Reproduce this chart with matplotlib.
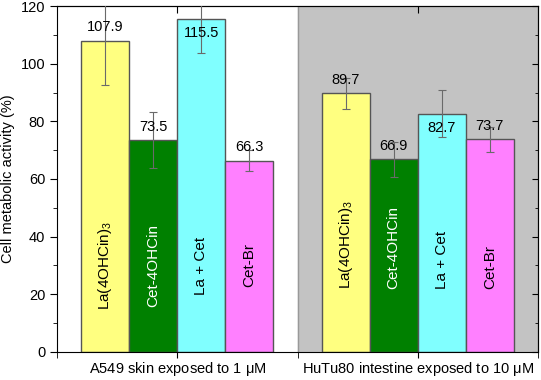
# %%
# Imports
import matplotlib
matplotlib.use("Agg")
import matplotlib.pyplot as plt
import numpy as np

plt.rcParams["font.family"] = ["Liberation Sans", "DejaVu Sans"]
plt.rcParams["mathtext.fontset"] = "custom"
plt.rcParams["mathtext.rm"] = "Liberation Sans"

# %%
# Data
groups = ["A549 skin exposed to 1 $\\mathrm{\\mu}$M", "HuTu80 intestine exposed to 10 $\\mathrm{\\mu}$M"]
compounds = ["La(4OHCin)$_3$", "Cet-4OHCin", "La + Cet", "Cet-Br"]
activity = [
    [107.9, 73.5, 115.5, 66.3],  # A549
    [89.7, 66.9, 82.7, 73.7],    # HuTu80
]
errors = [
    [15.3, 9.6, 11.8, 3.6],
    [5.3, 6.1, 8.0, 4.5],
]
label_below = [
    [False, False, True, False],
    [False, False, True, False],
]

colors = ["#ffff80", "#008000", "#80ffff", "#ff80ff"]
text_colors = ["black", "white", "black", "black"]

# %%
# Plot
fig = plt.figure(figsize=(5.41, 3.80), dpi=100)
ax = fig.add_axes([0.1054, 0.0737, 0.8891, 0.9105])

ax.axvspan(1.0, 2.0, color="#c3c3c3", zorder=0)
ax.axvline(1.0, color="#999999", lw=1, zorder=0.5)

width = 0.2
for g in range(len(groups)):
    center = g + 0.5
    for i in range(len(compounds)):
        x = center + (i - 1.5) * width
        val = activity[g][i]
        ax.bar(x, val, width, color=colors[i], edgecolor="#555555", lw=1, zorder=2)
        ax.errorbar(x, val, yerr=errors[g][i], color="#6a6a6a", lw=0.8,
                    capsize=3, capthick=0.8, zorder=3)
        if label_below[g][i]:
            ax.text(x, val - 5, f"{val:.1f}", ha="center", va="center", fontsize=10.5, zorder=4)
        else:
            ax.text(x, val + 4.7, f"{val:.1f}", ha="center", va="center", fontsize=10.5, zorder=4)
        if g == 0:
            ax.text(x, 30, compounds[i], rotation=90, ha="center", va="center",
                    color=text_colors[i], fontsize=11, zorder=4)
        else:
            ax.text(x, 22, compounds[i], rotation=90, ha="center", va="bottom",
                    color=text_colors[i], fontsize=11, zorder=4)

# Configure display
ax.set_xlim(0, 2)
ax.set_ylim(0, 120)
ax.set_xticks([0.5, 1.5])
ax.set_xticklabels(groups, fontsize=10.5)
ax.set_xticks([0, 1, 2], minor=True)
ax.set_yticks(np.arange(0, 121, 20))
ax.set_yticks(np.arange(0, 121, 10), minor=True)
ax.tick_params(axis="y", which="major", labelsize=10.5, length=5, direction="out")
ax.tick_params(axis="y", which="minor", length=3, direction="out")
ax.tick_params(axis="x", which="both", length=4, direction="out", pad=2)
ax.set_ylabel("Cell metabolic activity (%)", fontsize=10.5, labelpad=4)

# Right and top ticks, inward, no labels
ax_r = ax.secondary_yaxis("right")
ax_r.set_yticks(np.arange(0, 121, 20))
ax_r.set_yticks(np.arange(0, 121, 10), minor=True)
ax_r.tick_params(which="both", direction="in", labelright=False, length=4)
ax_r.tick_params(which="minor", length=2.5)
ax_t = ax.secondary_xaxis("top")
ax_t.set_xticks([0.5, 1.5])
ax_t.tick_params(direction="in", labeltop=False, length=5)

plt.savefig("out.png", dpi=100)
